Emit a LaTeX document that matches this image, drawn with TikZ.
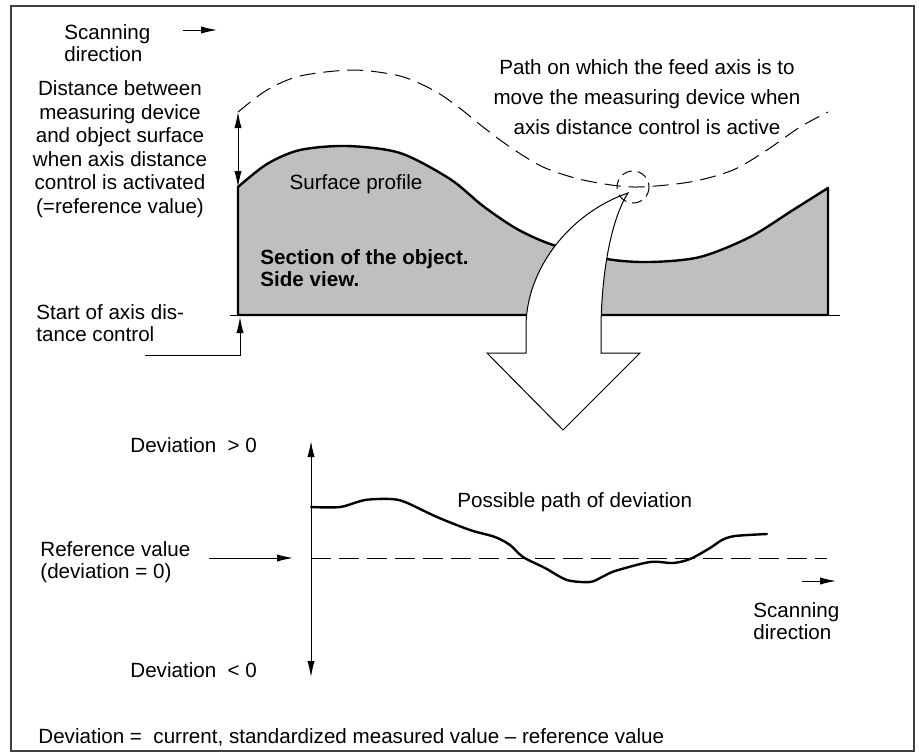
\documentclass[tikz,border=0pt]{standalone}
\usepackage{fontspec}
\setmainfont{Liberation Sans}
\usetikzlibrary{arrows.meta, positioning}

\begin{document}
\begin{tikzpicture}
                [x=0.5pt, y=-0.5pt,
                every node/.style={font=\fontsize{10.3}{11pt}\selectfont, inner sep=0pt},
                txt/.style={anchor=west, align=left},
                pointer/.style={line width=0.5pt, -{Latex[length=8pt,width=3.6pt]}},
                twoway/.style={line width=0.5pt, {Latex[length=8pt,width=3.6pt]}-{Latex[length=8pt,width=3.6pt]}},
                outline/.style={line width=1.2pt, line join=round},
                feedpath/.style={line width=0.5pt, dash pattern=on 8pt off 4pt},
                refline/.style={line width=0.5pt, dash pattern=on 10pt off 4pt}]
                \useasboundingbox (0,0) rectangle (919,755);
                \draw[line width=0.8pt, black!75] (11,6) rectangle (914,751);

                \node[txt] (scantop) at (64,43) {Scanning\\direction};
                \coordinate (st0) at (183,30);
                \coordinate (st1) at (217,30);
                \draw[pointer] (st0) -- (st1);

                \node[align=center, font=\fontsize{10.3}{11.75pt}\selectfont] (distance) at (120,149)
                {Distance between\\measuring device\\and object surface\\when axis distance\\control is activated\\(=reference value)};
                \node[align=center, font=\fontsize{10.3}{15pt}\selectfont] (feed) at (647,97)
                {Path on which the feed axis is to\\move the measuring device when\\axis distance control is active};

                \filldraw[fill=black!25, outline] (238,315) -- plot[smooth] coordinates {(238,187) (267,164) (300,150) (347,146) (400,153)
                (450,179) (483,206) (517,229) (553,245) (607,259) (650,262) (700,257) (750,237) (793,210) (828,188)} -- (828,315) -- cycle;
                \draw[line width=0.5pt] (230,315) -- (840,315);
                \coordinate (p0) at (238,187);
                \coordinate (d0) at (238,112);

                \draw[feedpath] plot[smooth] coordinates {(238,112) (267,90) (300,76) (353,70) (400,76) (433,90) (457,106) (483,127)
                (510,147) (543,167) (583,180) (633,187) (690,182) (733,170) (767,150) (800,127) (828,112)};
                \draw[twoway] (d0) -- (p0);

                \node (surface) at (356,184) {Surface profile};
                \node[txt, font=\fontsize{10.3}{11pt}\selectfont\bfseries] (section) at (260,268) {Section of the object.\\Side view.};

                \node[txt] (start) at (36,323) {Start of axis dis-\\tance control};
                \coordinate (s0) at (145,355);
                \coordinate (s1) at (240,317);
                \draw[pointer] (s0) -| (s1);

                \coordinate (tip) at (628,193);
                \filldraw[fill=white, line width=0.5pt, line join=miter] (tip) .. controls (570,213) and (527,268) .. (526,325) -- (526,353)
                -- (487,353) -- (563,430) -- (640,353) -- (601,353) -- (601,325) .. controls (602,268) and (612,218) .. (tip) -- cycle;
                \draw[line width=0.5pt, dash pattern=on 5pt off 3pt] (633,187) circle[radius=16];

                \node[txt] (devpos) at (130,445) {Deviation~~> 0};
                \node[txt] (devneg) at (130,670) {Deviation~~< 0};
                \coordinate (axtop) at (311,441);
                \coordinate (axbot) at (311,677);
                \draw[twoway] (axtop) -- (axbot);

                \node[txt] (reference) at (40,562) {Reference value\\(deviation = 0)};
                \coordinate (r0) at (209,558);
                \coordinate (r1) at (293,558);
                \draw[pointer] (r0) -- (r1);
                \draw[refline] (311,558) -- (827,558);

                \node[txt] (possible) at (457,502) {Possible path of deviation};
                \draw[line width=1.2pt, line cap=round] plot[smooth] coordinates {(311,507) (340,507) (365,500) (390,499) (405,502) (437,517)
                (470,530) (495,537) (510,545) (523,557) (545,568) (567,580) (590,582) (602,577) (615,571) (650,562) (673,563)
                (690,559) (710,548) (722,540) (735,536) (767,534)};

                \coordinate (sb0) at (802,581);
                \coordinate (sb1) at (836,581);
                \draw[pointer] (sb0) -- (sb1);
                \node[txt] (scanbottom) at (753,621) {Scanning\\direction};

                \node[txt] (formula) at (38,737) {Deviation =~ current, standardized measured value -- reference value};
            \end{tikzpicture}
\end{document}
